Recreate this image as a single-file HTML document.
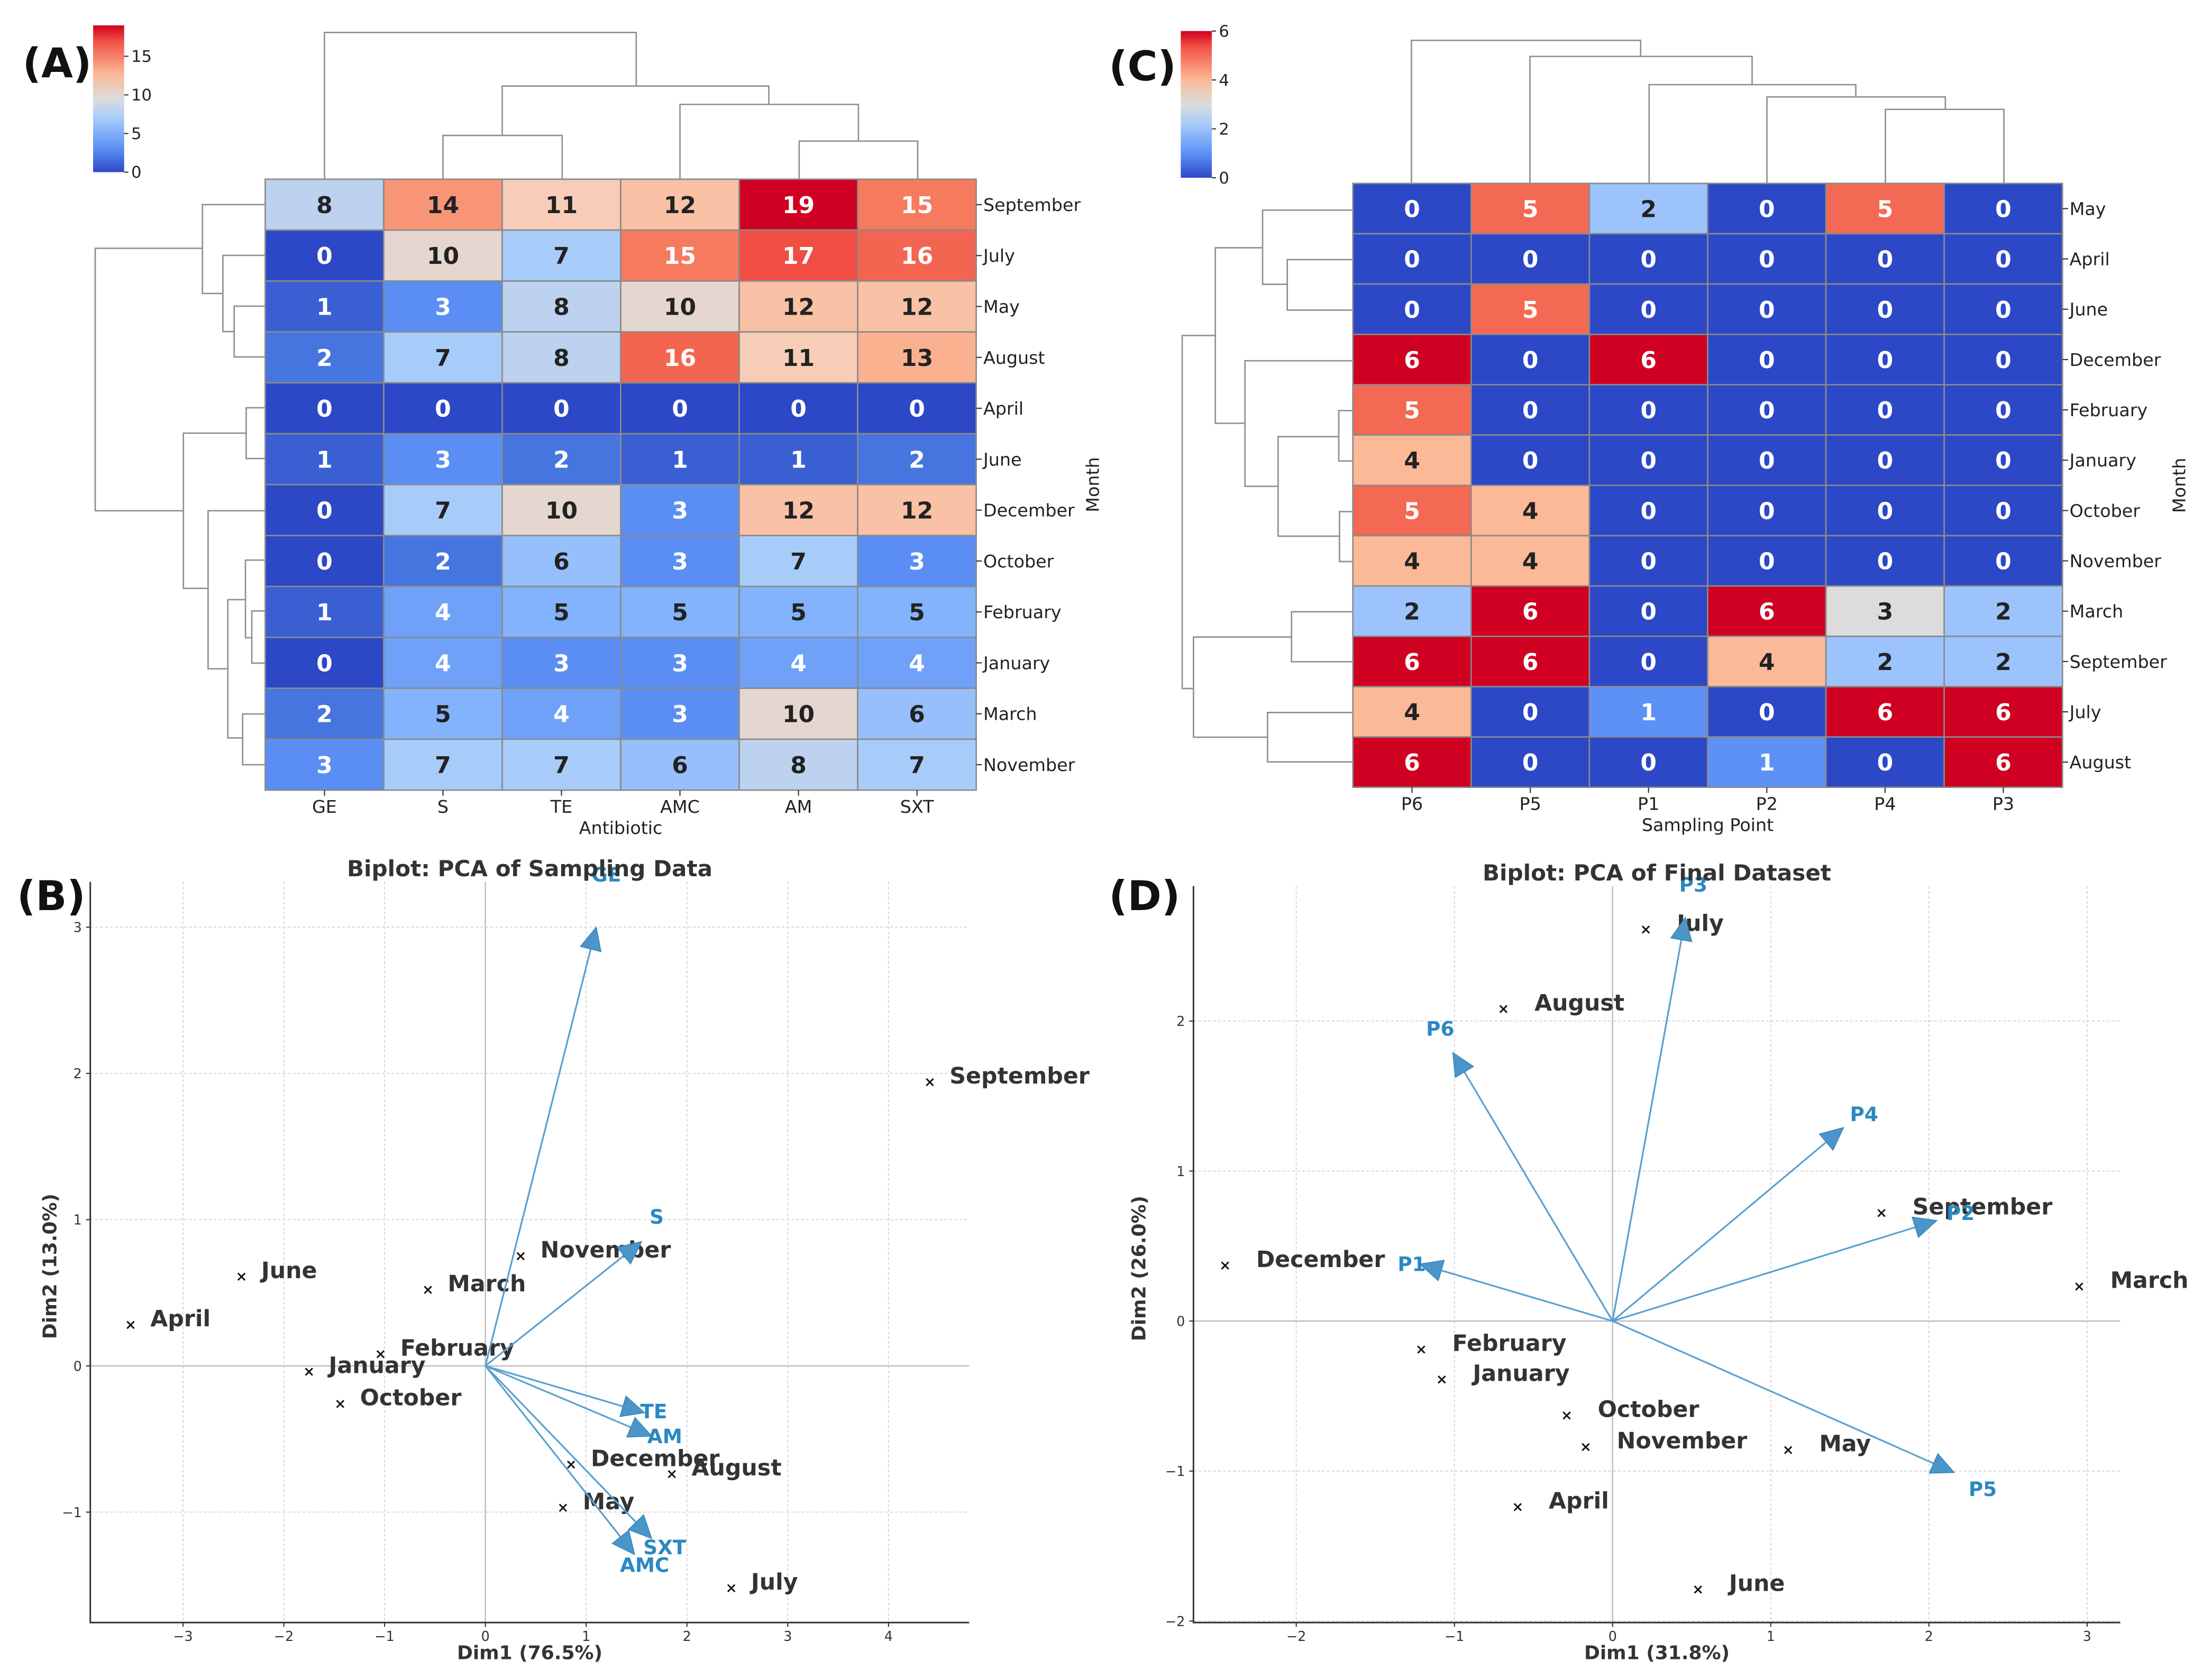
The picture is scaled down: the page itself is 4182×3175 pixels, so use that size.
<!DOCTYPE html>
<html><head><meta charset="utf-8"><style>
html,body{margin:0;padding:0;background:#fff;}
svg{display:block;font-family:"DejaVu Sans","Liberation Sans",sans-serif;}
</style></head><body>
<svg id="fig" width="4182" height="3175" viewBox="0 0 1568 1190" preserveAspectRatio="none" xmlns="http://www.w3.org/2000/svg">
<rect x="0" y="0" width="1568" height="1190" fill="#fff"/>
<defs>
<linearGradient id="cw" x1="0" y1="1" x2="0" y2="0">
<stop offset="0" stop-color="#2c48c6"/><stop offset="0.16" stop-color="#5b8ff5"/><stop offset="0.37" stop-color="#a9ccfa"/><stop offset="0.5" stop-color="#dcdcdc"/><stop offset="0.67" stop-color="#fbb896"/><stop offset="0.89" stop-color="#f25245"/><stop offset="1" stop-color="#cf0022"/>
</linearGradient>
</defs>
<g id="root"></g>
</svg>
<script>
// ---------- DATA ----------
const monthsA = ["September","July","May","August","April","June","December","October","February","January","March","November"];
const antibiotics = ["GE","S","TE","AMC","AM","SXT"];
const valuesA = [
 [8,14,11,12,19,15],[0,10,7,15,17,16],[1,3,8,10,12,12],[2,7,8,16,11,13],
 [0,0,0,0,0,0],[1,3,2,1,1,2],[0,7,10,3,12,12],[0,2,6,3,7,3],
 [1,4,5,5,5,5],[0,4,3,3,4,4],[2,5,4,3,10,6],[3,7,7,6,8,7]];
const monthsC = ["May","April","June","December","February","January","October","November","March","September","July","August"];
const points = ["P6","P5","P1","P2","P4","P3"];
const valuesC = [
 [0,5,2,0,5,0],[0,0,0,0,0,0],[0,5,0,0,0,0],[6,0,6,0,0,0],
 [5,0,0,0,0,0],[4,0,0,0,0,0],[5,4,0,0,0,0],[4,4,0,0,0,0],
 [2,6,0,6,3,2],[6,6,0,4,2,2],[4,0,1,0,6,6],[6,0,0,1,0,6]];
const cbTicksA = [0,5,10,15];
const cbTicksC = [0,2,4,6];

const bMonths = ["April","June","March","November","February","January","October","December","August","May","July","September"];
const bX = [-3.52,-2.42,-0.57,0.35,-1.04,-1.75,-1.44,0.85,1.85,0.77,2.44,4.41];
const bY = [0.28,0.61,0.52,0.75,0.08,-0.04,-0.26,-0.675,-0.74,-0.97,-1.52,1.94];
const bVars = ["GE","S","TE","AM","SXT","AMC"];
const bVX = [1.1,1.55,1.58,1.65,1.65,1.48];
const bVY = [3.0,0.85,-0.32,-0.48,-1.18,-1.29];
const bLX = [1.2,1.7,1.67,1.78,1.78,1.58];
const bLY = [3.36,1.02,-0.31,-0.48,-1.24,-1.36];
const bXTicks = [-3,-2,-1,0,1,2,3,4];
const bYTicks = [-1,0,1,2,3];

const dMonths = ["July","August","December","September","March","February","January","October","November","May","April","June"];
const dX = [0.21,-0.69,-2.45,1.70,2.95,-1.21,-1.08,-0.29,-0.17,1.11,-0.60,0.54];
const dY = [2.61,2.08,0.37,0.72,0.23,-0.19,-0.39,-0.63,-0.84,-0.86,-1.24,-1.79];
const dVars = ["P3","P6","P4","P2","P1","P5"];
const dVX = [0.46,-1.01,1.46,2.05,-1.22,2.16];
const dVY = [2.69,1.79,1.29,0.67,0.38,-1.01];
const dLX = [0.51,-1.09,1.59,2.2,-1.27,2.34];
const dLY = [2.91,1.95,1.38,0.72,0.38,-1.12];
const dXTicks = [-2,-1,0,1,2,3];
const dYTicks = [-2,-1,0,1,2];

// ---------- HELPERS ----------
const NS = "http://www.w3.org/2000/svg";
const root = document.getElementById("root");
function mk(tag, attrs, parent, text){
  const e = document.createElementNS(NS, tag);
  for (const k in attrs) e.setAttribute(k, attrs[k]);
  if (text !== undefined) e.textContent = text;
  (parent || root).appendChild(e);
  return e;
}
const stops = [[0,[44,72,198]],[0.105,[70,117,224]],[0.16,[91,143,245]],[0.26,[130,178,252]],[0.37,[169,204,250]],[0.5,[220,220,220]],[0.58,[247,205,184]],[0.67,[251,184,150]],[0.79,[246,122,94]],[0.89,[242,82,69]],[1,[207,0,34]]];
function cw(t){
  t=Math.max(0,Math.min(1,t));
  for(let i=1;i<stops.length;i++){
    if(t<=stops[i][0]){
      const a=stops[i-1],b=stops[i],f=(t-a[0])/(b[0]-a[0]);
      const c=a[1].map((v,j)=>Math.round(v+(b[1][j]-v)*f));
      return "rgb("+c.join(",")+")";
    }
  }
  return "rgb(207,0,34)";
}

// ---------- HEATMAP ----------
function heatmap(opt){
  const g = mk("g",{});
  
  
  const cw_ = (opt.x1-opt.x0)/opt.cols.length, ch=(opt.y1-opt.y0)/opt.rows.length;
  opt.vals.forEach((row,i)=>{
    row.forEach((v,j)=>{
      const t=v/opt.max;
      const r = mk("rect",{x:opt.x0+j*cw_,y:opt.y0+i*ch,width:cw_,height:ch,fill:cw(t),stroke:"#8a8a8a","stroke-width":1},g);
      
      
      const tx = mk("text",{x:opt.x0+(j+0.5)*cw_,y:opt.y0+(i+0.5)*ch+6,"text-anchor":"middle","font-size":16.5,"font-weight":"bold",fill:(t<0.24||t>0.76)?"#fff":"#222"},g,String(v));
      
      
    });
  });
  opt.rows.forEach((m,i)=>{
    const y=opt.y0+(i+0.5)*ch;
    mk("line",{x1:opt.x1,x2:opt.x1+4,y1:y,y2:y,stroke:"#333","stroke-width":0.8},g);
    const t=mk("text",{x:opt.x1+5,y:y+4.5,"font-size":12.5,fill:"#222"},g,m);
    
    
  });
  opt.cols.forEach((c,j)=>{
    const x=opt.x0+(j+0.5)*cw_;
    mk("line",{x1:x,x2:x,y1:opt.y1,y2:opt.y1+4,stroke:"#333","stroke-width":0.8},g);
    const t=mk("text",{x:x,y:opt.y1+16,"text-anchor":"middle","font-size":12.5,fill:"#222"},g,c);
    
    
  });
  const xt=mk("text",{x:(opt.x0+opt.x1)/2,y:opt.y1+31,"text-anchor":"middle","font-size":12.5,fill:"#222"},g,opt.xtitle);
  
  
  const yt=mk("text",{x:0,y:0,"text-anchor":"middle","font-size":12.5,fill:"#222",transform:"translate("+opt.mx+","+((opt.y0+opt.y1)/2)+") rotate(-90)"},g,"Month");
  
  
  const cb=mk("rect",{x:opt.cbx,y:opt.cby0,width:22,height:opt.cby1-opt.cby0,fill:"url(#cw)"},g);
  
  
  opt.cbTicks.forEach(v=>{
    const y=opt.cby1-(opt.cby1-opt.cby0)*v/opt.max;
    mk("line",{x1:opt.cbx+22,x2:opt.cbx+25,y1:y,y2:y,stroke:"#333","stroke-width":0.8},g);
    const t=mk("text",{x:opt.cbx+27,y:y+4,"font-size":11.5,fill:"#222"},g,String(v));
    
    
  });
  opt.colDend.forEach(d=>{
    mk("path",{d:"M"+d[0]+","+d[3]+"V"+d[2]+"H"+d[1]+"V"+d[4],fill:"none",stroke:"#8f8f8f","stroke-width":1},g);
  });
  opt.rowDend.forEach(d=>{
    mk("path",{d:"M"+d[3]+","+d[0]+"H"+d[2]+"V"+d[1]+"H"+d[4],fill:"none",stroke:"#8f8f8f","stroke-width":1},g);
  });
}

heatmap({name:"heatmap-antibiotic",x0:188,x1:692,y0:127,y1:560,rows:monthsA,cols:antibiotics,vals:valuesA,max:19,
  xtitle:"Antibiotic",mx:779,cbx:66,cby0:18,cby1:122,cbTicks:cbTicksA,
  colDend:[[230,451,23,127,61],[356,545,61,96,74],[314,398.5,96,127,127],[482,608.5,74,127,100],[566.5,650.5,100,127,127]],
  rowDend:[[176,362,67.5,143.5,130],[145,208,143.5,188,158],[181,235,158,188,166],[217,253,166,188,188],[307,417,130,174.5,147.5],[289,325,174.5,188,188],[362,474,147.5,188,161.5],[425,523,161.5,174,172],[397,452,174,188,178.5],[433,470,178.5,188,188],[506,542,172,188,188]]});

heatmap({name:"heatmap-sampling-point",x0:959,x1:1462,y0:130,y1:558,rows:monthsC,cols:points,vals:valuesC,max:6,
  xtitle:"Sampling Point",mx:1549,cbx:837,cby0:22,cby1:126,cbTicks:cbTicksC,
  colDend:[[1000.5,1163,28.6,130,40],[1084.5,1242,40,130,60],[1169,1315.5,60,130,68.7],[1252.5,1379,68.7,130,77.5],[1336.5,1420.5,77.5,130,130]],
  rowDend:[[237.8,488,838,861.5,846],[175.6,300,861.5,895,882.5],[148.9,201.5,895,959,912.5],[184,219.8,912.5,959,959],[255.7,344.7,882.5,959,906],[309.5,380,906,949,949.5],[291,326.7,949,959,959],[362.6,398,949.5,959,959],[451.5,522.5,846,915.5,898.5],[433.6,469,915.5,959,959],[505,540,898.5,959,959]]});

// ---------- BIPLOT ----------
function biplot(o){
  const g = mk("g",{});
  
  
  const sx=v=>o.px0+(v-o.xmin)/(o.xmax-o.xmin)*(o.px1-o.px0);
  const sy=v=>o.py1-(v-o.ymin)/(o.ymax-o.ymin)*(o.py1-o.py0);
  o.xt.forEach(v=>{
    const x=sx(v);
    mk("line",{x1:x,x2:x,y1:o.py0,y2:o.py1,stroke:"#d6d6d6","stroke-width":0.7,"stroke-dasharray":"2,1.5"},g);
    mk("line",{x1:x,x2:x,y1:o.py1,y2:o.py1+3,stroke:"#333","stroke-width":0.8},g);
    const t=mk("text",{x:x,y:o.py1+13,"text-anchor":"middle","font-size":9.5,fill:"#333"},g,v<0?"\u2212"+(-v):String(v));
    
    
  });
  o.yt.forEach(v=>{
    const y=sy(v);
    mk("line",{x1:o.px0,x2:o.px1,y1:y,y2:y,stroke:"#d6d6d6","stroke-width":0.7,"stroke-dasharray":"2,1.5"},g);
    mk("line",{x1:o.px0-3,x2:o.px0,y1:y,y2:y,stroke:"#333","stroke-width":0.8},g);
    const t=mk("text",{x:o.px0-6,y:y+3.5,"text-anchor":"end","font-size":9.5,fill:"#333"},g,v<0?"\u2212"+(-v):String(v));
    
    
  });
  mk("line",{x1:o.px0,x2:o.px1,y1:sy(0),y2:sy(0),stroke:"#bdbdbd","stroke-width":0.9},g);
  mk("line",{x1:sx(0),x2:sx(0),y1:o.py0,y2:o.py1,stroke:"#bdbdbd","stroke-width":0.9},g);
  mk("path",{d:"M"+o.px0+","+o.py0+"V"+o.py1+"H"+o.px1,fill:"none",stroke:"#333","stroke-width":1.1},g);
  o.labels.forEach((m,i)=>{
    const x=sx(o.X[i]),y=sy(o.Y[i]);
    const p=mk("path",{d:"M"+(x-2.5)+","+(y-2.5)+"L"+(x+2.5)+","+(y+2.5)+"M"+(x-2.5)+","+(y+2.5)+"L"+(x+2.5)+","+(y-2.5),stroke:"#111","stroke-width":1.1},g);
    
    
    const t=mk("text",{x:x+o.off,y:y+1,"font-size":16,"font-weight":"bold",fill:"#333"},g,m);
    
    
  });
  const ox=sx(0),oy=sy(0);
  o.vars.forEach((v,i)=>{
    const tx=sx(o.VX[i]),ty=sy(o.VY[i]);
    const dx=tx-ox,dy=ty-oy,L=Math.hypot(dx,dy),ux=dx/L,uy=dy/L;
    const hl=16,hw=7.5;
    const bx=tx-ux*hl,by=ty-uy*hl;
    const l=mk("line",{x1:ox,y1:oy,x2:bx,y2:by,stroke:"#5aa0d0","stroke-width":1.2},g);
    
    
    const h=mk("path",{d:"M"+tx+","+ty+"L"+(bx-uy*hw)+","+(by+ux*hw)+"L"+(bx+uy*hw)+","+(by-ux*hw)+"Z",fill:"#4a96c8",stroke:"#3a86b8","stroke-width":0.6},g);
    
    
    const t=mk("text",{x:sx(o.LX[i]),y:sy(o.LY[i])+5,"text-anchor":"middle","font-size":14,"font-weight":"bold",fill:"#2a88c2"},g,v);
    
    
  });
  const ti=mk("text",{x:(o.px0+o.px1)/2,y:o.py0-4,"text-anchor":"middle","font-size":15.8,"font-weight":"bold",fill:"#333"},g,o.title);
  
  
  const xa=mk("text",{x:(o.px0+o.px1)/2,y:o.py1+26,"text-anchor":"middle","font-size":13.5,"font-weight":"bold",fill:"#333"},g,o.xlab);
  
  
  const ya=mk("text",{x:0,y:0,"text-anchor":"middle","font-size":13.5,"font-weight":"bold",fill:"#333",transform:"translate("+o.ylx+","+((o.py0+o.py1)/2+10)+") rotate(-90)"},g,o.ylab);
  
  
}

biplot({name:"biplot-sampling",px0:64,px1:687,py0:625,py1:1150,xmin:-3.92,xmax:4.8,ymin:-1.755,ymax:3.31,
  xt:bXTicks,yt:bYTicks,labels:bMonths,X:bX,Y:bY,vars:bVars,VX:bVX,VY:bVY,LX:bLX,LY:bLY,off:14,
  title:"Biplot: PCA of Sampling Data",xlab:"Dim1 (76.5%)",ylab:"Dim2 (13.0%)",ylx:40});
biplot({name:"biplot-final",px0:846,px1:1503,py0:628,py1:1150,xmin:-2.65,xmax:3.21,ymin:-2.01,ymax:2.9,
  xt:dXTicks,yt:dYTicks,labels:dMonths,X:dX,Y:dY,vars:dVars,VX:dVX,VY:dVY,LX:dLX,LY:dLY,off:22,
  title:"Biplot: PCA of Final Dataset",xlab:"Dim1 (31.8%)",ylab:"Dim2 (26.0%)",ylx:812});

[["(A)",16,55],["(C)",786,57],["(B)",12,645],["(D)",786,645]].forEach(p=>{
  const t=mk("text",{x:p[1],y:p[2],"font-size":29,"font-weight":"bold",fill:"#111"},root,p[0]);
  
  
});
</script>
</body></html>
